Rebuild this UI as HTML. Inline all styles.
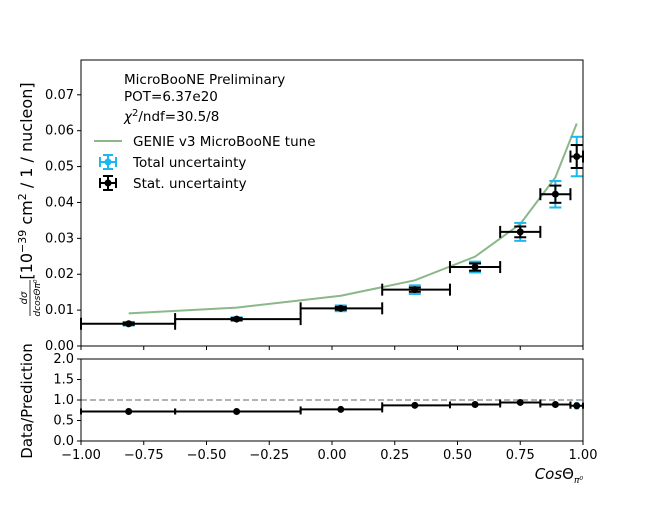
<!DOCTYPE html>
<html><head><meta charset="utf-8"><style>
body{margin:0;background:#fff}
svg text{font-family:"DejaVu Sans","Liberation Sans",sans-serif;fill:#000}
</style></head><body>
<svg id="chart" width="648" height="504" xmlns="http://www.w3.org/2000/svg"></svg>
<script>
const binLo = [-1, -0.625, -0.125, 0.2, 0.47, 0.67, 0.83, 0.95];
const binHi = [-0.625, -0.125, 0.2, 0.47, 0.67, 0.83, 0.95, 1.0];
const xCenters = [-0.81, -0.38, 0.035, 0.33, 0.57, 0.75, 0.89, 0.975];
const xsec = [0.0062, 0.0075, 0.0105, 0.0157, 0.0220, 0.0318, 0.0423, 0.0528];
const totErr = [0.0005, 0.0005, 0.0008, 0.0012, 0.0015, 0.0025, 0.0037, 0.0055];
const statErr = [0.0003, 0.0003, 0.0004, 0.0006, 0.0010, 0.0015, 0.0024, 0.0032];
const genie = [0.0091, 0.0107, 0.0140, 0.0183, 0.0249, 0.0340, 0.0470, 0.0620];
const ratio = [0.72, 0.72, 0.77, 0.87, 0.89, 0.94, 0.89, 0.86];
const ratioTot = [0.05, 0.05, 0.06, 0.06, 0.06, 0.06, 0.06, 0.09];
const xTicks = [-1, -0.75, -0.5, -0.25, 0, 0.25, 0.5, 0.75, 1];
const xTickLabels = ["−1.00","−0.75","−0.50","−0.25","0.00","0.25","0.50","0.75","1.00"];
const yTicks = [0,0.01,0.02,0.03,0.04,0.05,0.06,0.07];
const yTickLabels = ["0.00","0.01","0.02","0.03","0.04","0.05","0.06","0.07"];
const rTicks = [0,0.5,1,1.5,2];
const rTickLabels = ["0.0","0.5","1.0","1.5","2.0"];

const NS="http://www.w3.org/2000/svg", svgEl=document.getElementById('chart');
const L=81,R=583,T1=60,B1=346,T2=359,B2=441;
const X=v=>L+(v+1)/2*(R-L);
const Y=v=>B1-v/0.0797*(B1-T1);
const YR=v=>B2-v/2*(B2-T2);
function el(tag,a,p){const e=document.createElementNS(NS,tag);for(const k in a)e.setAttribute(k,a[k]);(p||svgEl).appendChild(e);return e;}
function txt(s,a,p){const e=el('text',a,p);e.textContent=s;return e;}
function errbar(g,x,y,x1,x2,y1,y2,col,w,cap){
  if(x1!==null){el('line',{x1:x1,x2:x2,y1:y,y2:y,stroke:col,'stroke-width':w},g);
    el('line',{x1:x1,x2:x1,y1:y-cap,y2:y+cap,stroke:col,'stroke-width':w},g);
    el('line',{x1:x2,x2:x2,y1:y-cap,y2:y+cap,stroke:col,'stroke-width':w},g);}
  el('line',{x1:x,x2:x,y1:y1,y2:y2,stroke:col,'stroke-width':w},g);
  if(cap>0){
  el('line',{x1:x-cap,x2:x+cap,y1:y1,y2:y1,stroke:col,'stroke-width':w},g);
  el('line',{x1:x-cap,x2:x+cap,y1:y2,y2:y2,stroke:col,'stroke-width':w},g);}
}
const topG=el('g',{});


let d=xCenters.map((x,i)=>(i?'L':'M')+X(x)+','+Y(genie[i])).join(' ');
const gl=el('path',{d:d,fill:'none',stroke:'#8ab88a','stroke-width':2},topG);


xCenters.forEach((x,i)=>{
  const g=el('g',{},topG);
  
  
  const px=X(x),py=Y(xsec[i]);
  errbar(g,px,py,null,null,Y(xsec[i]-totErr[i]),Y(xsec[i]+totErr[i]),'#1ab8ef',2,6);
  errbar(g,px,py,X(binLo[i]),X(binHi[i]),Y(xsec[i]-statErr[i]),Y(xsec[i]+statErr[i]),'#000',2,6);
  el('circle',{cx:px,cy:py,r:3.5,fill:'#000'},g);
});
el('rect',{x:L,y:T1,width:R-L,height:B1-T1,fill:'none',stroke:'#000','stroke-width':1});
yTicks.forEach((v,i)=>{el('line',{x1:L-4,x2:L,y1:Y(v),y2:Y(v),stroke:'#000'});
  const t=txt(yTickLabels[i],{x:L-7,y:Y(v)+4,'text-anchor':'end','font-size':13});
  });
xTicks.forEach(v=>{el('line',{x1:X(v),x2:X(v),y1:B1,y2:B1+4,stroke:'#000'});});
const lg=el('g',{});


txt('MicroBooNE Preliminary',{x:124,y:84,'font-size':13.5},lg);
txt('POT=6.37e20',{x:124,y:101,'font-size':13.5},lg);
const chi=el('text',{x:124,y:121,'font-size':13.5},lg);
const s1=el('tspan',{'font-style':'italic'},chi);s1.textContent='χ';
const s2=el('tspan',{dy:-5,'font-size':10},chi);s2.textContent='2';
const s3=el('tspan',{dy:5},chi);s3.textContent='/ndf=30.5/8';
el('line',{x1:94,x2:122,y1:141,y2:141,stroke:'#8ab88a','stroke-width':2},lg);
txt('GENIE v3 MicroBooNE tune',{x:133,y:146,'font-size':13.5},lg);
errbar(lg,108,162,100,116,155,169,'#1ab8ef',2,5);el('circle',{cx:108,cy:162,r:3.5,fill:'#1ab8ef'},lg);
txt('Total uncertainty',{x:133,y:167,'font-size':13.5},lg);
errbar(lg,108,183,100,116,176,190,'#000',2,5);el('circle',{cx:108,cy:183,r:3.5,fill:'#000'},lg);
txt('Stat. uncertainty',{x:133,y:188,'font-size':13.5},lg);
const yt=el('text',{transform:'translate(32,181) rotate(-90)','text-anchor':'middle','font-size':16});

[['[10',0,null],['−39',-6,11],[' cm',6,null],['2',-6,11],[' / 1 / nucleon]',6,null]].forEach(p=>{
  const a={dy:p[1]};if(p[2])a['font-size']=p[2];const t=el('tspan',a,yt);t.textContent=p[0];});
const fr=el('g',{transform:'translate(30,298) rotate(-90)'});
txt('dσ',{x:0,y:-3,'text-anchor':'middle','font-size':10,'font-style':'italic'},fr);
el('line',{x1:-18,x2:18,y1:0,y2:0,stroke:'#000','stroke-width':0.8},fr);
txt('dcosΘπ⁰',{x:0,y:10,'text-anchor':'middle','font-size':9,'font-style':'italic'},fr);
const bot=el('g',{});


el('line',{x1:L,x2:R,y1:YR(1),y2:YR(1),stroke:'#999','stroke-width':1.5,'stroke-dasharray':'6,3'},bot);
xCenters.forEach((x,i)=>{
  const g=el('g',{},bot);
  
  
  const px=X(x),py=YR(ratio[i]);
  errbar(g,px,py,null,null,YR(ratio[i]-ratioTot[i]),YR(ratio[i]+ratioTot[i]),'#1ab8ef',4,0);
  el('line',{x1:X(binLo[i]),x2:X(binHi[i]),y1:py,y2:py,stroke:'#000','stroke-width':2},g);
  el('line',{x1:X(binLo[i]),x2:X(binLo[i]),y1:py-3,y2:py+3,stroke:'#000','stroke-width':2},g);
  el('line',{x1:X(binHi[i]),x2:X(binHi[i]),y1:py-3,y2:py+3,stroke:'#000','stroke-width':2},g);
  el('circle',{cx:px,cy:py,r:3.5,fill:'#000'},g);
});
el('rect',{x:L,y:T2,width:R-L,height:B2-T2,fill:'none',stroke:'#000','stroke-width':1});
rTicks.forEach((v,i)=>{el('line',{x1:L-4,x2:L,y1:YR(v),y2:YR(v),stroke:'#000'});
  txt(rTickLabels[i],{x:L-7,y:YR(v)+4,'text-anchor':'end','font-size':13});});
xTicks.forEach((v,i)=>{el('line',{x1:X(v),x2:X(v),y1:B2,y2:B2+4,stroke:'#000'});
  const t=txt(xTickLabels[i],{x:X(v),y:B2+18,'text-anchor':'middle','font-size':13});
  });
const rt=txt('Data/Prediction',{transform:'translate(32,401) rotate(-90)','text-anchor':'middle','font-size':15});

const xt=el('text',{x:583,y:479,'text-anchor':'end','font-size':15});

const x1s=el('tspan',{'font-style':'italic'},xt);x1s.textContent='Cos';
const x2s=el('tspan',{},xt);x2s.textContent='Θ';
const x3s=el('tspan',{dy:4,'font-size':9,'font-style':'italic'},xt);x3s.textContent='π⁰';
</script>
</body></html>
